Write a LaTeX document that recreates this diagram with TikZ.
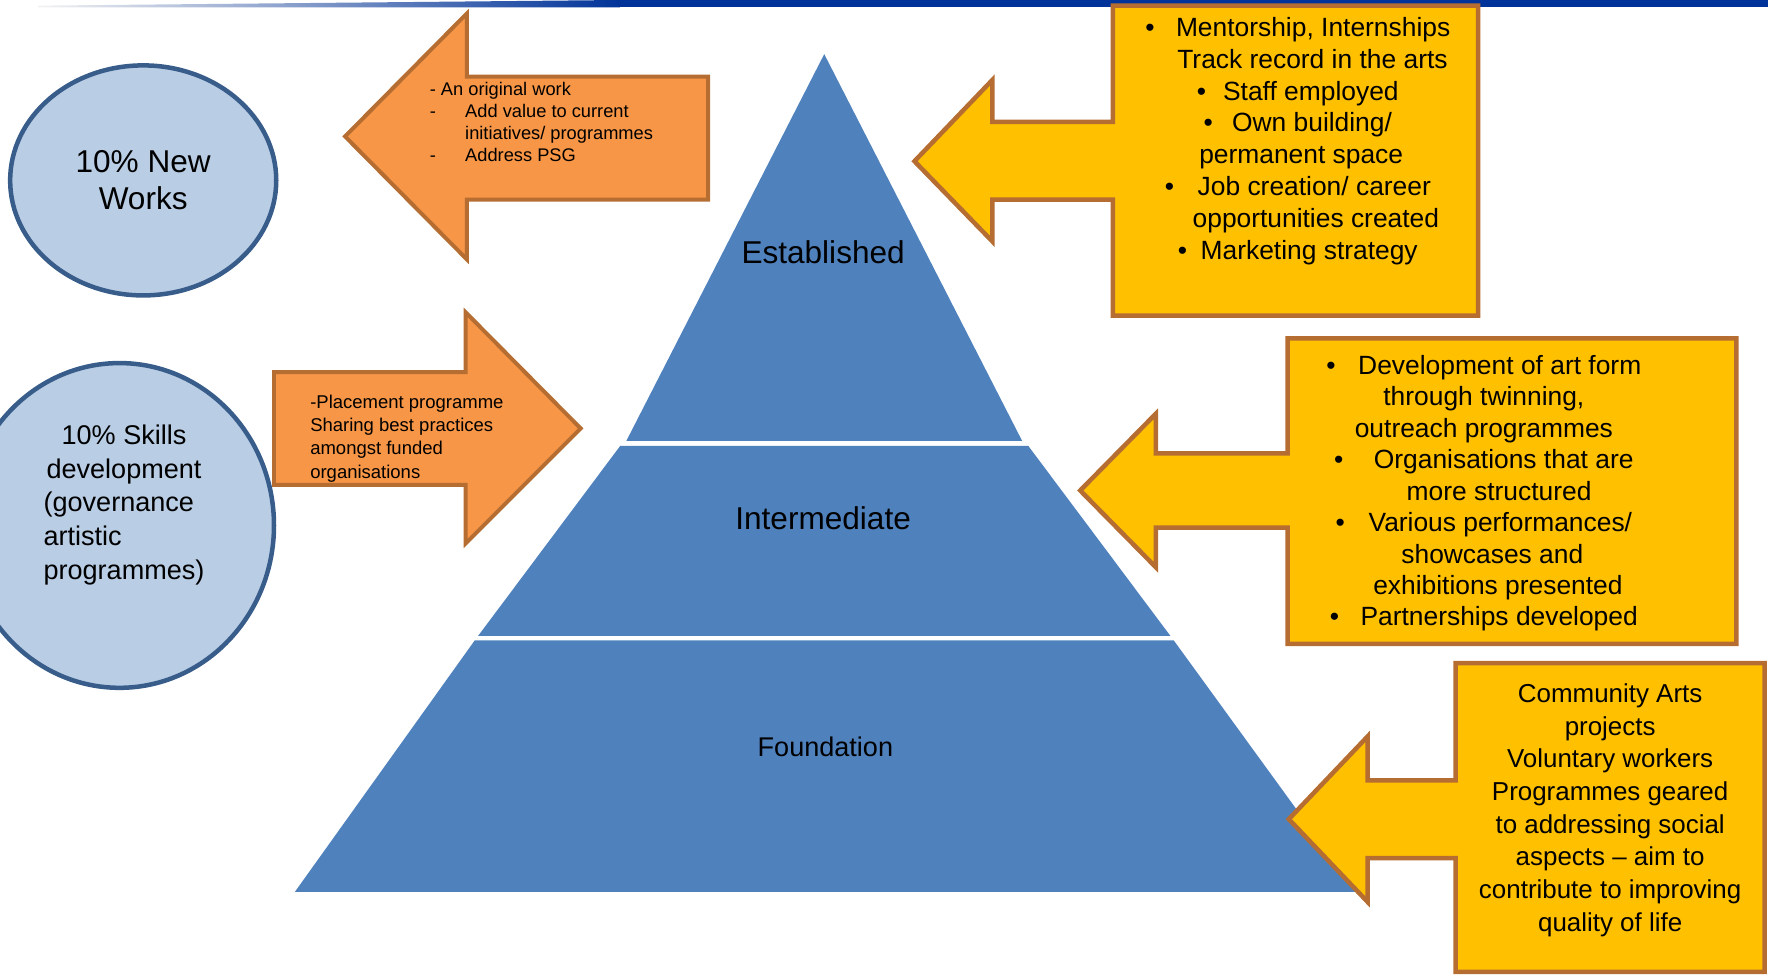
\documentclass[tikz,border=0pt]{standalone}
\usepackage{fontspec}
\setmainfont{Liberation Sans}
\usetikzlibrary{shapes.geometric}

\definecolor{barblue}{HTML}{003399}
\definecolor{tierblue}{HTML}{4F81BD}
\definecolor{ovalfill}{HTML}{B9CDE5}
\definecolor{ovalline}{HTML}{385D8A}
\definecolor{orangefill}{HTML}{F79646}
\definecolor{boxline}{HTML}{B66D31}
\definecolor{goldfill}{HTML}{FFC000}

\tikzset{
  tier/.style={fill=tierblue},
  tierlabel/.style={font=\fontsize{28}{34}\selectfont},
  oval/.style={ellipse, draw=ovalline, line width=4pt, fill=ovalfill, inner sep=0pt},
  orangearrow/.style={draw=boxline, fill=orangefill, line width=3.5pt, line join=miter},
  goldcallout/.style={draw=boxline, fill=goldfill, line width=4pt, line join=miter},
  arrowtext/.style={font=\fontsize{16.2}{19.5}\selectfont, align=left, inner sep=0pt},
  listtext/.style={font=\fontsize{23.4}{28.2}\selectfont, align=center, inner sep=0pt},
}

\begin{document}
\begin{tikzpicture}[x=1pt, y=-1pt]
    \useasboundingbox (0,0) rectangle (1568,864);
    \clip (0,0) rectangle (1568,864);

    % top bar
    \shade[left color=gray!10, middle color=barblue!75, right color=barblue] (34,5) -- (550,0) -- (550,6.5) -- (34,6.5) -- cycle;
    \fill[barblue] (549,0) rectangle (1568,6.5);

    % pyramid
    \fill[tier] (731,48) -- (906.5,391) -- (555.5,391) -- cycle;
    \fill[tier] (550,395.5) -- (912,395.5) -- (1038,564) -- (424,564) -- cycle;
    \fill[tier] (421,568) -- (1041,568) -- (1203,791) -- (261.5,791) -- cycle;
    \node[tierlabel] (established) at (730,224) {Established};
    \node[tierlabel] (intermediate) at (730,460) {Intermediate};
    \node[font=\fontsize{24}{29}\selectfont] (foundation) at (732,662) {Foundation};

    % ovals
    \node[oval, minimum width=236pt, minimum height=204pt, align=center,
          font=\fontsize{28}{33}\selectfont] (newworks) at (127,160) {10\% New\\Works};
    \node[oval, minimum width=274pt, minimum height=288pt] (skills) at (106,466) {};
    \node[font=\fontsize{24}{30}\selectfont, inner sep=0pt] (skillstext) at (110,448)
        {\begin{tabular}{@{}l@{}}
         \multicolumn{1}{@{}c@{}}{10\% Skills}\\
         \multicolumn{1}{@{}c@{}}{development}\\
         (governance\\
         artistic\\
         programmes)
         \end{tabular}};

    % orange arrows
    \draw[orangearrow] (306,121) -- (414,12) -- (414,68) -- (628,68) -- (628,177) -- (414,177) -- (414,230) -- cycle;
    \node[arrowtext, anchor=west] (worksnote) at (381,110)
        {\begin{tabular}{@{}l@{\hspace{26pt}}l@{}}
         \multicolumn{2}{@{}l@{}}{- An original work}\\
         - & Add value to current\\
           & initiatives/ programmes\\
         - & Address PSG
         \end{tabular}};
    \draw[orangearrow] (243,330) -- (413,330) -- (413,277) -- (515,380) -- (413,482) -- (413,430) -- (243,430) -- cycle;
    \node[arrowtext, anchor=west, font=\fontsize{16.4}{20.5}\selectfont] (skillsnote) at (275,389)
        {-Placement programme\\Sharing best practices\\amongst funded\\organisations};

    % gold callouts
    \draw[goldcallout] (987,5) -- (1311,5) -- (1311,280) -- (987,280) -- (987,177) -- (880,177) -- (880,214)
        -- (811,143) -- (880,71) -- (880,108) -- (987,108) -- cycle;
    \node[listtext] (establishedlist) at (1151,125)
        {•\hspace{19pt}Mentorship, Internships\\
         \hspace*{26pt}Track record in the arts\\
         •\hspace{15pt}Staff employed\\
         •\hspace{17pt}Own building/\\
         \hspace*{6pt}permanent space\\
         •\hspace{21pt}Job creation/ career\\
         \hspace*{32pt}opportunities created\\
         •\hspace{12pt}Marketing strategy};

    \draw[goldcallout] (1142,300) -- (1540,300) -- (1540,571) -- (1142,571) -- (1142,468) -- (1025,468) -- (1025,503)
        -- (958,435) -- (1025,367) -- (1025,402) -- (1142,402) -- cycle;
    \node[listtext, font=\fontsize{23.4}{27.9}\selectfont] (intermediatelist) at (1316,437.5)
        {•\hspace{20pt}Development of art form\\
         through twinning,\\
         outreach programmes\\
         •\hspace{27pt}Organisations that are\\
         \hspace*{27pt}more structured\\
         •\hspace{21pt}Various performances/\hspace*{12pt}\\
         \hspace*{15pt}showcases and\\
         \hspace*{25pt}exhibitions presented\\
         •\hspace{19pt}Partnerships developed};

    \draw[goldcallout] (1291,588) -- (1565,588) -- (1565,862) -- (1291,862) -- (1291,761) -- (1213,761) -- (1213,800)
        -- (1143,726.5) -- (1213,653) -- (1213,692) -- (1291,692) -- cycle;
    \node[listtext, font=\fontsize{23}{29}\selectfont] (foundationlist) at (1428,718.5)
        {Community Arts\\projects\\Voluntary workers\\Programmes geared\\to addressing social\\aspects – aim to\\contribute to improving\\quality of life};
\end{tikzpicture}
\end{document}
